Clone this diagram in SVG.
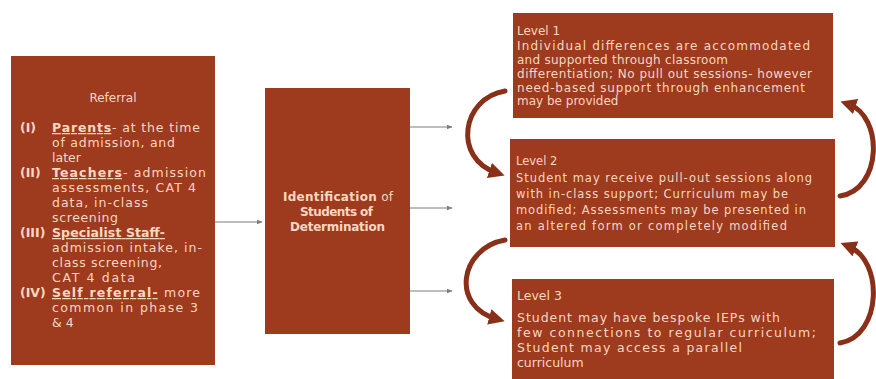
<svg xmlns="http://www.w3.org/2000/svg" width="876" height="379" viewBox="0 0 876 379">
  <defs>
    <marker id="tip" viewBox="0 0 10 10" refX="9" refY="5" markerWidth="6" markerHeight="6" orient="auto">
      <path d="M0,1 L10,5 L0,9 z" fill="#7d7d7d"/>
    </marker>
    <marker id="bigtip" viewBox="0 0 10 10" refX="5" refY="5" markerWidth="3.2" markerHeight="3.2" orient="auto">
      <path d="M0,0 L10,5 L0,10 z" fill="#8a2f18"/>
    </marker>
    <style>
      .box { fill: #9e3a1d; }
      .t { font-family: "DejaVu Sans", "Liberation Sans", sans-serif; fill: #f6d7c2; }
      .b { font-weight: bold; }
      .u { text-decoration: underline; }
      .link { stroke: #7d7d7d; stroke-width: 1; fill: none; }
      .loop { stroke: #8a2f18; stroke-width: 5; fill: none; stroke-linecap: round; }
    </style>
  </defs>

  <rect width="876" height="379" fill="#ffffff"/>

  <!-- Referral sources -->
  <g id="referral">
    <rect class="box" x="11" y="56" width="204" height="309"/>
    <text class="t" x="113" y="102" font-size="12" text-anchor="middle">Referral</text>
    <g class="t" font-size="12.5" lengthAdjust="spacing">
      <text x="20" y="132" class="b">(I)</text>
      <text x="52" y="132" textLength="148"><tspan class="b u">Parents</tspan>- at the time</text>
      <text x="52" y="147" textLength="123">of admission, and</text>
      <text x="52" y="162">later</text>
      <text x="20" y="177" class="b">(II)</text>
      <text x="52" y="177" textLength="154"><tspan class="b u">Teachers</tspan>- admission</text>
      <text x="52" y="192" textLength="144">assessments, CAT 4</text>
      <text x="52" y="207" textLength="96">data, in-class</text>
      <text x="52" y="222" textLength="66">screening</text>
      <text x="20" y="237" class="b">(III)</text>
      <text x="52" y="237" textLength="113" class="b u">Specialist Staff-</text>
      <text x="52" y="252" textLength="150">admission intake, in-</text>
      <text x="52" y="267" textLength="110">class screening,</text>
      <text x="52" y="282" textLength="83">CAT 4 data</text>
      <text x="20" y="297" class="b">(IV)</text>
      <text x="52" y="297" textLength="148"><tspan class="b u">Self referral-</tspan> more</text>
      <text x="52" y="312" textLength="146">common in phase 3</text>
      <text x="52" y="327">&amp; 4</text>
    </g>
  </g>

  <!-- Identification -->
  <g id="identification">
    <rect class="box" x="265" y="88" width="145" height="246"/>
    <g class="t" font-size="12" lengthAdjust="spacing">
      <text x="283" y="201" textLength="110"><tspan class="b">Identification</tspan> of</text>
      <text x="300" y="216" textLength="73" class="b">Students of</text>
      <text x="290" y="231" textLength="95" class="b">Determination</text>
    </g>
  </g>

  <!-- Level 1 -->
  <g id="level1">
    <rect class="box" x="513" y="13" width="320" height="105"/>
    <g class="t" font-size="12" lengthAdjust="spacing">
      <text x="517" y="35">Level 1</text>
      <text x="517" y="50" textLength="293">Individual differences are accommodated</text>
      <text x="517" y="64" textLength="211">and supported through classroom</text>
      <text x="517" y="78" textLength="295">differentiation; No pull out sessions- however</text>
      <text x="517" y="92" textLength="288">need-based support through enhancement</text>
      <text x="517" y="105">may be provided</text>
    </g>
  </g>

  <!-- Level 2 -->
  <g id="level2">
    <rect class="box" x="510" y="139" width="325" height="108"/>
    <g class="t" font-size="11.5" lengthAdjust="spacing">
      <text x="516" y="165">Level 2</text>
      <text x="516" y="182" textLength="296">Student may receive pull-out sessions along</text>
      <text x="516" y="198" textLength="272">with in-class support; Curriculum may be</text>
      <text x="516" y="214" textLength="290">modified; Assessments may be presented in</text>
      <text x="516" y="230" textLength="271">an altered form or completely modified</text>
    </g>
  </g>

  <!-- Level 3 -->
  <g id="level3">
    <rect class="box" x="512" y="279" width="322" height="100"/>
    <g class="t" font-size="12.5" lengthAdjust="spacing">
      <text x="517" y="300">Level 3</text>
      <text x="517" y="322" textLength="263">Student may have bespoke IEPs with</text>
      <text x="517" y="337" textLength="299">few connections to regular curriculum;</text>
      <text x="517" y="352" textLength="225">Student may access a parallel</text>
      <text x="517" y="367">curriculum</text>
    </g>
  </g>

  <!-- Connectors -->
  <g id="connectors">
    <line class="link" x1="215" y1="222" x2="262" y2="222" marker-end="url(#tip)"/>
    <line class="link" x1="410" y1="127" x2="452" y2="127" marker-end="url(#tip)"/>
    <line class="link" x1="410" y1="208" x2="452" y2="208" marker-end="url(#tip)"/>
    <line class="link" x1="410" y1="291" x2="452" y2="291" marker-end="url(#tip)"/>

    <!-- escalation loops on the left -->
    <path class="loop" d="M505,91 C462,98 452,158 497,173" marker-end="url(#bigtip)"/>
    <path class="loop" d="M505,240 C460,248 450,306 497,319" marker-end="url(#bigtip)"/>
    <!-- de-escalation loops on the right -->
    <path class="loop" d="M840,196 C882,190 884,116 848,104" marker-end="url(#bigtip)"/>
    <path class="loop" d="M840,343 C882,336 884,260 848,246" marker-end="url(#bigtip)"/>
  </g>
</svg>
